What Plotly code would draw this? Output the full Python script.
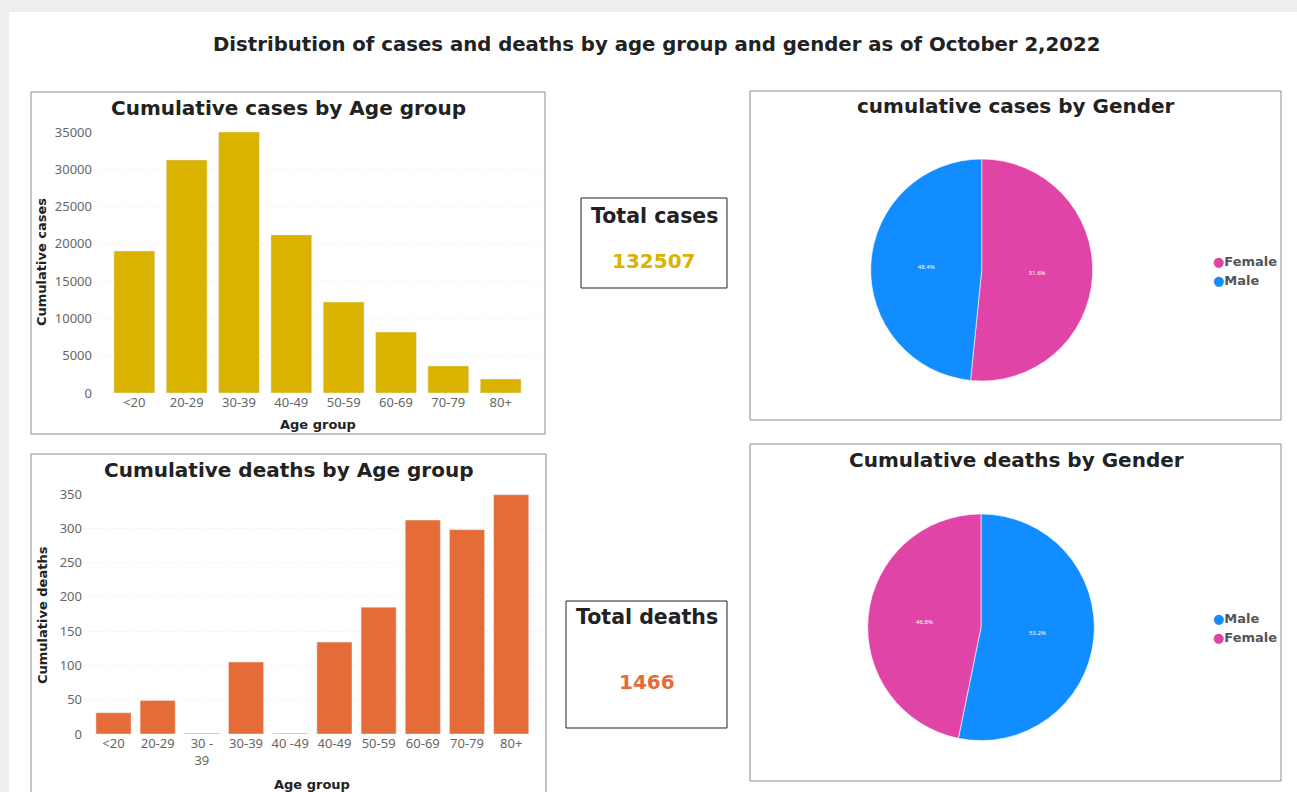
import plotly.graph_objects as go

W, H = 1297, 792

# ---------------- data ----------------
case_age_groups = ["<20", "20-29", "30-39", "40-49", "50-59", "60-69", "70-79", "80+"]
case_values = [19050, 31250, 35000, 21200, 12200, 8180, 3620, 1880]

death_age_groups = ["<20", "20-29", "30 - 39", "30-39", "40 -49", "40-49", "50-59", "60-69", "70-79", "80+"]
death_tick_labels = ["<20", "20-29", "30 -<br>39", "30-39", "40 -49", "40-49", "50-59", "60-69", "70-79", "80+"]
death_values = [31, 49, 1, 105, 1, 134, 185, 312, 298, 349]

case_gender_labels = ["Female", "Male"]
case_gender_values = [51.6, 48.4]
death_gender_labels = ["Male", "Female"]
death_gender_values = [53.2, 46.8]

total_cases = 132507
total_deaths = 1466

# ---------------- style ----------------
GOLD = "#D9B300"
ORANGE = "#E66C37"
BLUE = "#118DFF"
PINK = "#E044A7"
gender_colors = {"Female": PINK, "Male": BLUE}
TITLE_FONT = "DejaVu Sans"
TICK_FONT = "Noto Sans"


def X(px):
    return px / W


def Y(py):
    return 1 - py / H


fig = go.Figure()

fig.add_trace(go.Bar(
    x=case_age_groups, y=case_values, marker_color=GOLD, width=0.78,
    xaxis="x", yaxis="y", showlegend=False,
))
fig.add_trace(go.Bar(
    x=death_age_groups, y=death_values, marker_color=ORANGE, width=0.795,
    xaxis="x2", yaxis="y2", showlegend=False,
))


def pie_domain(cx, cy, half):
    return dict(x=[X(cx - half), X(cx + half)], y=[Y(cy + half), Y(cy - half)])


fig.add_trace(go.Pie(
    labels=case_gender_labels, values=case_gender_values,
    marker=dict(colors=[gender_colors[g] for g in case_gender_labels],
                line=dict(color="white", width=0.6)),
    sort=False, direction="clockwise", rotation=0,
    textinfo="percent", textposition="inside", insidetextorientation="horizontal",
    textfont=dict(size=6, color="white", family=TICK_FONT),
    domain=pie_domain(981.7, 270, 111),
    showlegend=False,
))
fig.add_trace(go.Pie(
    labels=death_gender_labels, values=death_gender_values,
    marker=dict(colors=[gender_colors[g] for g in death_gender_labels],
                line=dict(color="white", width=0.6)),
    sort=False, direction="clockwise", rotation=0,
    textinfo="percent", textposition="inside", insidetextorientation="horizontal",
    textfont=dict(size=6, color="white", family=TICK_FONT),
    domain=pie_domain(981, 627.3, 113.3),
    showlegend=False,
))

tickfont = dict(family=TICK_FONT, size=13, color="#666666")
grid = dict(showgrid=True, gridcolor="#f2f2f2", griddash="dot", gridwidth=1, zeroline=False)

fig.update_layout(
    width=W, height=H, autosize=False,
    margin=dict(l=0, r=0, t=0, b=0, pad=0, autoexpand=False),
    showlegend=False,
    paper_bgcolor="#eeeeee", plot_bgcolor="rgba(0,0,0,0)",
    xaxis=dict(domain=[X(93), X(542)], range=[-0.79, 7.79], type="category",
               showgrid=False, zeroline=False, showline=False, ticks="",
               tickfont=tickfont, anchor="y", automargin=False),
    yaxis=dict(domain=[Y(393), Y(132)], range=[0, 35000], dtick=5000, tickformat="d",
               tickfont=tickfont, anchor="x", showline=False, ticks="", automargin=False, **grid),
    xaxis2=dict(domain=[X(83), X(543)], range=[-0.69, 9.72], type="category",
                tickmode="array", tickvals=death_age_groups, ticktext=death_tick_labels,
                showgrid=False, zeroline=False, showline=False, ticks="",
                tickfont=tickfont, anchor="y2", automargin=False),
    yaxis2=dict(domain=[Y(734), Y(494)], range=[0, 350], dtick=50,
                tickfont=tickfont, anchor="x2", showline=False, ticks="", automargin=False, **grid),
)

shapes = []
# white card
shapes.append(dict(type="rect", xref="paper", yref="paper", layer="below",
                   x0=X(9), x1=X(1297), y0=Y(792), y1=Y(12),
                   fillcolor="white", line=dict(width=0)))
# panel frames
panel_line = dict(color="#8a8a8a", width=1)
for (x0, y0, x1, y1) in [(31, 92, 545, 434), (31, 454, 546, 800),
                         (750, 91, 1281, 420), (750, 444, 1281, 781)]:
    shapes.append(dict(type="rect", xref="paper", yref="paper", layer="below",
                       x0=X(x0), x1=X(x1), y0=Y(y1), y1=Y(y0),
                       fillcolor="white", line=panel_line))
# KPI boxes
for (x0, y0, x1, y1) in [(581, 198, 727, 288), (566, 601, 727, 728)]:
    shapes.append(dict(type="rect", xref="paper", yref="paper", layer="below",
                       x0=X(x0), x1=X(x1), y0=Y(y1), y1=Y(y0),
                       fillcolor="white", line=dict(color="#222222", width=1)))
fig.update_layout(shapes=shapes)

ann = []


def text(px, py, s, size, color="#222222", family=TITLE_FONT, angle=0, xanchor="center"):
    ann.append(dict(x=X(px), y=Y(py), xref="paper", yref="paper", text=s,
                    showarrow=False, textangle=angle, xanchor=xanchor, yanchor="middle",
                    font=dict(family=family, size=size, color=color)))


text(656, 44, "<b>Distribution of cases and deaths by age group and gender as of October 2,2022</b>", 19.7)
text(288, 108, "<b>Cumulative cases by Age group</b>", 20)
text(288, 470, "<b>Cumulative deaths by Age group</b>", 20)
text(1016, 106, "<b>cumulative cases by Gender</b>", 20)
text(1016, 460, "<b>Cumulative deaths by Gender</b>", 20)
text(41, 262, "<b>Cumulative cases</b>", 13, angle=-90)
text(318, 424, "<b>Age group</b>", 13)
text(42, 615, "<b>Cumulative deaths</b>", 13, angle=-90)
text(312, 784, "<b>Age group</b>", 13)
text(654, 216, "<b>Total cases</b>", 20.5)
text(654, 261, f"<b>{total_cases}</b>", 20, color=GOLD)
text(647, 617, "<b>Total deaths</b>", 20.5)
text(647, 682, f"<b>{total_deaths}</b>", 20, color=ORANGE)

# custom legends with round markers
for i, g in enumerate(case_gender_labels):
    text(1211, 261 + 19 * i,
         f"<span style='color:{gender_colors[g]}'>●</span><b>{g}</b>", 13,
         color="#555555", xanchor="left")
for i, g in enumerate(death_gender_labels):
    text(1211, 618 + 19 * i,
         f"<span style='color:{gender_colors[g]}'>●</span><b>{g}</b>", 13,
         color="#555555", xanchor="left")

fig.update_layout(annotations=ann)

post = ("document.body.style.margin='0';"
        "document.body.style.background='#eeeeee';"
        "var gd=document.getElementById('{plot_id}');"
        "gd.style.position='fixed';gd.style.left='0px';gd.style.top='0px';")

fig.write_html("out.html", post_script=post, config={"displayModeBar": False})
